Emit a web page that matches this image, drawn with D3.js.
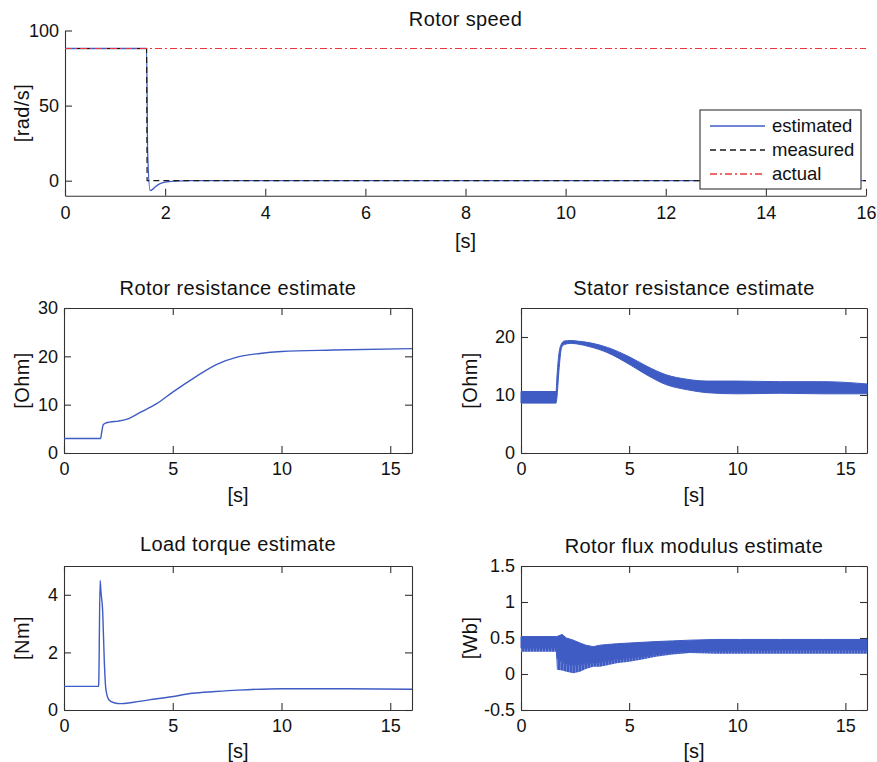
<!DOCTYPE html>
<html><head><meta charset="utf-8">
<script src="https://cdn.jsdelivr.net/npm/d3@7"></script>
<style>
body{margin:0;background:#fff;}
svg{display:block;font-family:"Liberation Sans",Arial,Helvetica,sans-serif;}
</style></head><body><svg id="fig" width="877" height="762"></svg>
<script>
// ---- Rotor speed [rad/s] ----
const speedActualT = [0, 16];
const speedActual = [88, 88];
const speedMeasuredT = [0, 1.63, 1.64, 16];
const speedMeasured = [88, 88, 0, 0];
const speedEstimatedT = [0, 1.63, 1.65, 1.70, 1.75, 1.80, 1.90, 2.00, 2.20, 2.50, 16];
const speedEstimated = [88, 88, 20, -6.5, -5.8, -4.2, -2.0, -1.0, -0.3, 0, 0];

// ---- Rotor resistance estimate [Ohm] ----
const rotorResT = [0, 1.68, 1.74, 1.80, 1.88, 2.1, 2.5, 2.9, 3.5, 4.26, 5.0, 6.0, 7.0, 8.0, 9.0, 10, 12.4, 16];
const rotorRes = [3.0, 3.0, 4.5, 5.8, 6.1, 6.4, 6.6, 7.0, 8.4, 10.2, 12.6, 15.6, 18.3, 19.9, 20.6, 21.0, 21.3, 21.6];

// ---- Stator resistance estimate [Ohm], noise band ----
const statorResT = [0, 1.62, 1.66, 1.75, 1.88, 2.0, 2.3, 2.6, 3.2, 4.0, 5.0, 5.8, 6.7, 7.7, 8.6, 10, 12, 14, 16];
const statorResHi = [10.6, 10.6, 13.0, 17.0, 18.9, 19.3, 19.4, 19.3, 19.0, 18.2, 16.6, 15.0, 13.5, 12.7, 12.4, 12.4, 12.3, 12.3, 11.9];
const statorResLo = [8.6, 8.6, 9.5, 14.0, 18.2, 18.7, 18.9, 18.8, 18.3, 17.3, 15.3, 13.5, 11.8, 10.9, 10.4, 10.2, 10.3, 10.2, 10.2];

// ---- Load torque estimate [Nm] ----
const torqueT = [0, 1.59, 1.60, 1.66, 1.70, 1.78, 1.85, 1.93, 2.07, 2.3, 2.6, 3.2, 3.9, 4.95, 5.9, 6.96, 8.0, 10, 13, 16];
const torque = [0.82, 0.82, 1.0, 4.5, 4.1, 3.4, 1.74, 0.69, 0.35, 0.25, 0.22, 0.27, 0.35, 0.46, 0.58, 0.64, 0.69, 0.74, 0.74, 0.72];

// ---- Rotor flux modulus estimate [Wb], ripple band ----
const fluxT = [0, 1.62, 1.66, 1.9, 2.1, 2.42, 2.73, 3.0, 3.34, 3.65, 4.0, 4.42, 5.0, 5.6, 6.24, 7.0, 7.8, 9, 10.1, 12, 14, 16];
const fluxHi = [0.52, 0.52, 0.52, 0.55, 0.50, 0.47, 0.43, 0.40, 0.38, 0.40, 0.41, 0.42, 0.43, 0.44, 0.45, 0.46, 0.47, 0.48, 0.48, 0.48, 0.48, 0.48];
const fluxCore = [0.36, 0.36, 0.22, 0.16, 0.13, 0.12, 0.13, 0.14, 0.15, 0.16, 0.18, 0.20, 0.22, 0.24, 0.27, 0.29, 0.30, 0.32, 0.32, 0.33, 0.33, 0.33];
const fluxLo = [0.31, 0.31, 0.06, 0.05, 0.03, 0.01, 0.03, 0.07, 0.10, 0.10, 0.12, 0.15, 0.17, 0.20, 0.24, 0.27, 0.29, 0.28, 0.28, 0.28, 0.28, 0.28];

// ---- Tick values ----
const speedXTicks = [0, 2, 4, 6, 8, 10, 12, 14, 16];
const speedYTicks = [0, 50, 100];
const timeTicks = [0, 5, 10, 15];
const rotorResTicks = [0, 10, 20, 30];
const statorResTicks = [0, 10, 20];
const torqueTicks = [0, 2, 4];
const fluxTicks = [-0.5, 0, 0.5, 1, 1.5];

const legendLabels = ["estimated", "measured", "actual"];

const BLUE = "#3f5cc4", RED = "#e8383c", BLACK = "#1a1a1a", AXIS = "#333", INK = "#111";
const svg = d3.select("#fig");

// stripe pattern for the lighter ripple part of the flux band
const defs = svg.append("defs");
const pat = defs.append("pattern").attr("id", "ripple").attr("patternUnits", "userSpaceOnUse")
  .attr("width", 3).attr("height", 10);
pat.append("rect").attr("width", 3).attr("height", 10).attr("fill", "#7b90d8");
pat.append("rect").attr("width", 2.3).attr("height", 10).attr("fill", BLUE);

function panel(o) {
  const x = d3.scaleLinear().domain(o.xDomain).range([o.left, o.right]);
  const y = d3.scaleLinear().domain(o.yDomain).range([o.bottom, o.top]);
  const g = svg.append("g");
  const fmt = d => String(d);

  const styleAxis = sel => {
    sel.selectAll("path.domain").attr("stroke", AXIS).attr("stroke-width", 1.1);
    sel.selectAll(".tick line").attr("stroke", AXIS).attr("stroke-width", 1.1);
    sel.selectAll(".tick text").attr("fill", INK).style("font-size", "18px")
      .style("font-family", '"Liberation Sans",Arial,sans-serif');
  };

  const gx = g.append("g").attr("transform", `translate(0,${o.bottom})`)
    .call(d3.axisBottom(x).tickValues(o.xTicks).tickFormat(fmt).tickSize(-7).tickSizeOuter(0).tickPadding(o.xPad || 9));
  styleAxis(gx);
  const gy = g.append("g").attr("transform", `translate(${o.left},0)`)
    .call(d3.axisLeft(y).tickValues(o.yTicks).tickFormat(fmt).tickSize(-7).tickSizeOuter(0).tickPadding(6));
  styleAxis(gy);
  if (o.box) {
    const gt = g.append("g").attr("transform", `translate(0,${o.top})`)
      .call(d3.axisTop(x).tickValues(o.xTicks).tickFormat("").tickSize(-7).tickSizeOuter(0));
    styleAxis(gt);
    const gr = g.append("g").attr("transform", `translate(${o.right},0)`)
      .call(d3.axisRight(y).tickValues(o.yTicks).tickFormat("").tickSize(-7).tickSizeOuter(0));
    styleAxis(gr);
  }

  g.append("text").attr("x", (o.left + o.right) / 2).attr("y", o.titleY)
    .attr("text-anchor", "middle").style("font-size", "20px").style("letter-spacing", "0.4px")
    .attr("fill", INK).text(o.title);
  g.append("text").attr("x", (o.left + o.right) / 2).attr("y", o.xLabelY)
    .attr("text-anchor", "middle").attr("dy", "0.35em").style("font-size", "20px")
    .attr("fill", INK).text("[s]");
  g.append("text").attr("transform", `translate(${o.yLabelX},${(o.top + o.bottom) / 2}) rotate(-90)`)
    .attr("text-anchor", "middle").attr("dy", "0.35em").style("font-size", "20px").style("letter-spacing", "0.4px")
    .attr("fill", INK).text(o.yLabel);

  const plot = g.append("g");
  return { x, y, plot };
}

const lineOf = (p, ts, vs, curve) => d3.line().curve(curve || d3.curveLinear)
  .x((d, i) => p.x(ts[i])).y(d => p.y(d))(vs);

// ---- Rotor speed ----
const pSpeed = panel({
  left: 65, right: 866, top: 30.5, bottom: 195.7,
  xDomain: [0, 16], yDomain: [-10, 100], xTicks: speedXTicks, yTicks: speedYTicks,
  box: false, title: "Rotor speed", titleY: 26, yLabel: "[rad/s]", yLabelX: 22, xLabelY: 241, xPad: 11
});
pSpeed.plot.append("path").attr("d", lineOf(pSpeed, speedEstimatedT, speedEstimated, d3.curveMonotoneX))
  .attr("fill", "none").attr("stroke", BLUE).attr("stroke-width", 1.3);
pSpeed.plot.append("path").attr("d", lineOf(pSpeed, speedMeasuredT, speedMeasured))
  .attr("fill", "none").attr("stroke", BLACK).attr("stroke-width", 1.2).attr("stroke-dasharray", "6,4");
pSpeed.plot.append("path").attr("d", lineOf(pSpeed, speedActualT, speedActual))
  .attr("fill", "none").attr("stroke", RED).attr("stroke-width", 1.2).attr("stroke-dasharray", "7,3,2,3");

// legend
const lg = svg.append("g");
lg.append("rect").attr("x", 700).attr("y", 110).attr("width", 161).attr("height", 79)
  .attr("fill", "#fff").attr("stroke", AXIS).attr("stroke-width", 1.1);
const legendStyles = [
  { stroke: BLUE, dash: null },
  { stroke: BLACK, dash: "6,4" },
  { stroke: RED, dash: "7,3,2,3" }
];
const legendRowsY = [126, 150, 174];
legendLabels.forEach((lab, i) => {
  lg.append("line").attr("x1", 710).attr("x2", 765).attr("y1", legendRowsY[i]).attr("y2", legendRowsY[i])
    .attr("stroke", legendStyles[i].stroke).attr("stroke-width", 1.3)
    .attr("stroke-dasharray", legendStyles[i].dash);
  lg.append("text").attr("x", 772).attr("y", legendRowsY[i]).attr("dy", "0.35em")
    .style("font-size", "18.5px").attr("fill", INK).text(lab);
});

// ---- Rotor resistance ----
const pRr = panel({
  left: 64, right: 412, top: 308, bottom: 453,
  xDomain: [0, 16], yDomain: [0, 30], xTicks: timeTicks, yTicks: rotorResTicks,
  box: true, title: "Rotor resistance estimate", titleY: 295, yLabel: "[Ohm]", yLabelX: 22, xLabelY: 495
});
pRr.plot.append("path").attr("d", lineOf(pRr, rotorResT, rotorRes, d3.curveMonotoneX))
  .attr("fill", "none").attr("stroke", BLUE).attr("stroke-width", 1.4);

// ---- Stator resistance ----
const pRs = panel({
  left: 521, right: 867, top: 308, bottom: 453,
  xDomain: [0, 16], yDomain: [0, 25], xTicks: timeTicks, yTicks: statorResTicks,
  box: true, title: "Stator resistance estimate", titleY: 295, yLabel: "[Ohm]", yLabelX: 470, xLabelY: 495
});
pRs.plot.append("path")
  .attr("d", d3.area().curve(d3.curveMonotoneX).x((d, i) => pRs.x(statorResT[i]))
    .y0((d, i) => pRs.y(statorResLo[i])).y1(d => pRs.y(d))(statorResHi))
  .attr("fill", BLUE).attr("stroke", BLUE).attr("stroke-width", 1).attr("stroke-linejoin", "round");

// ---- Load torque ----
const pTl = panel({
  left: 64, right: 412, top: 566, bottom: 710,
  xDomain: [0, 16], yDomain: [0, 5], xTicks: timeTicks, yTicks: torqueTicks,
  box: true, title: "Load torque estimate", titleY: 551, yLabel: "[Nm]", yLabelX: 22, xLabelY: 751
});
pTl.plot.append("path").attr("d", lineOf(pTl, torqueT, torque, d3.curveMonotoneX))
  .attr("fill", "none").attr("stroke", BLUE).attr("stroke-width", 1.4).attr("stroke-linejoin", "round");

// ---- Rotor flux modulus ----
const pFlux = panel({
  left: 521, right: 867, top: 566, bottom: 710,
  xDomain: [0, 16], yDomain: [-0.5, 1.5], xTicks: timeTicks, yTicks: fluxTicks,
  box: true, title: "Rotor flux modulus estimate", titleY: 553, yLabel: "[Wb]", yLabelX: 470, xLabelY: 751
});
pFlux.plot.append("path")
  .attr("d", d3.area().x((d, i) => pFlux.x(fluxT[i])).y0((d, i) => pFlux.y(fluxLo[i])).y1(d => pFlux.y(d))(fluxCore))
  .attr("fill", "url(#ripple)");
pFlux.plot.append("path")
  .attr("d", d3.area().x((d, i) => pFlux.x(fluxT[i])).y0((d, i) => pFlux.y(fluxCore[i])).y1(d => pFlux.y(d))(fluxHi))
  .attr("fill", BLUE).attr("stroke", BLUE).attr("stroke-width", 1);
</script></body></html>
